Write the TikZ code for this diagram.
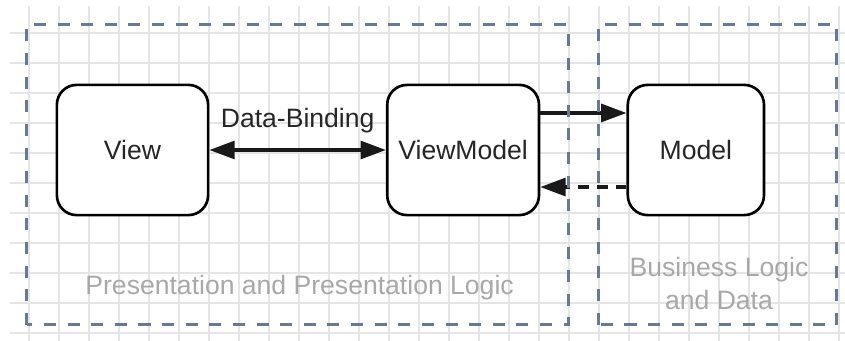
\documentclass[tikz,border=0pt]{standalone}
\usepackage{fontspec}
\setmainfont{Liberation Sans}
\usetikzlibrary{arrows.meta}

\definecolor{zoneblue}{RGB}{104,121,150}
\definecolor{labelgray}{RGB}{168,168,168}

\begin{document}
\begin{tikzpicture}[x=0.5cm,y=0.5cm,
    gridline/.style={draw=black!10,line width=0.6pt},
    zone/.style={draw=zoneblue,line width=1.5pt,dash pattern=on 5.7pt off 5.5pt},
    part/.style={draw=black,line width=1.25pt,fill=white,rounded corners=0.33cm,
      minimum height=2.17cm,text=black!85,font=\fontsize{12.6}{15.2}\selectfont},
    tip/.style={-{Triangle[length=12pt,width=8.5pt]}},
    flow/.style={draw=black!90,line width=1.5pt,tip},
    zonelabel/.style={text=labelgray,align=center,font=\fontsize{12.6}{15.2}\selectfont}]
    \useasboundingbox (-0.9667,-0.2333) rectangle (27.2,11.1);
    % background grid
    \foreach \x in {0,...,27}
      \draw[gridline] (\x,-0.25) -- (\x,10.9);
    \foreach \y in {0,...,10}
      \draw[gridline] (-0.63,\y) -- (27.2,\y);
    % the three parts
    \node[part,minimum width=2.52cm] (view) at (3.45,6.1) {View};
    \node[part,minimum width=2.53cm] (vm) at (14.47,6.1) {ViewModel};
    \node[part,minimum width=2.27cm] (model) at (22.23,6.1) {Model};
    % connections
    \draw[flow,{Triangle[length=12pt,width=8.5pt]}-{Triangle[length=12pt,width=8.5pt]}] (view.east) -- (vm.west)
      node[midway,above=4pt,text=black!85,font=\fontsize{12.6}{15.2}\selectfont] (bind) {Data-Binding};
    \draw[flow] ([yshift=0.617cm]vm.east) -- ([yshift=0.617cm]model.west);
    \draw[flow,dash pattern=on 5pt off 4pt] ([yshift=-0.617cm]model.west) -- ([yshift=-0.617cm]vm.east);
    % layers
    \draw[zone] (-0.07,0.27) rectangle (17.97,10.27);
    \draw[zone] (18.97,0.27) rectangle (26.93,10.27);
    \node[zonelabel,anchor=base] (pres) at (9.02,1.3) {Presentation and Presentation Logic};
    \node[zonelabel,anchor=base] (biz) at (23.0,0.8) {Business Logic\\and Data};
\end{tikzpicture}
\end{document}
